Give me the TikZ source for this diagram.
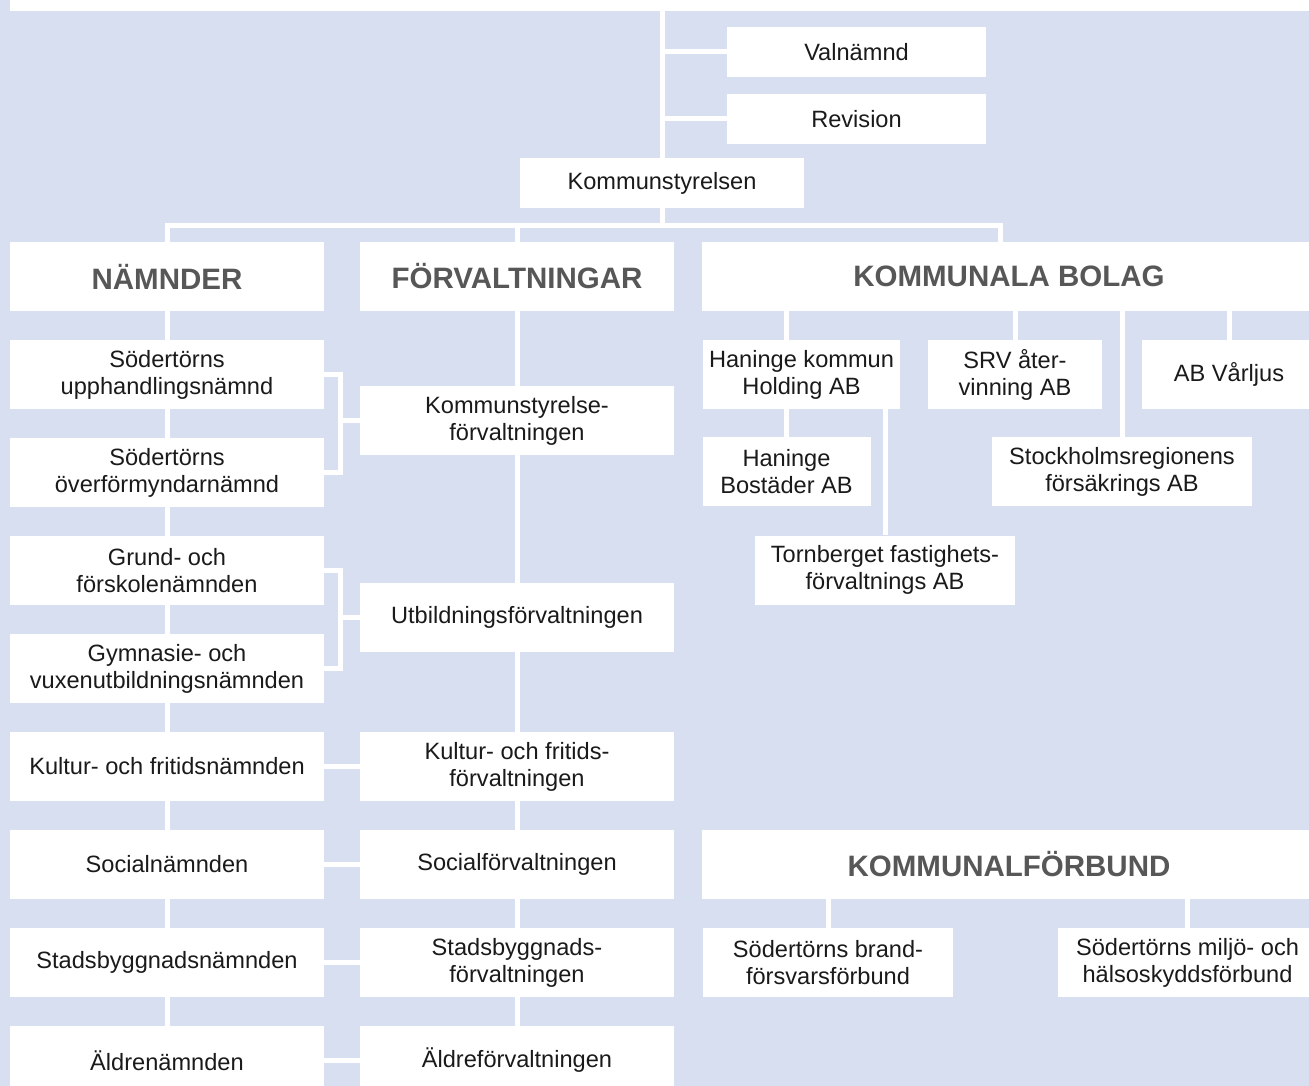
\documentclass[tikz,border=0pt]{standalone}
\usepackage{fontspec}
\setmainfont{Liberation Sans}
\usetikzlibrary{backgrounds}
\definecolor{bgblue}{HTML}{D7DFF0}
\definecolor{headgray}{HTML}{575757}
\definecolor{txt}{HTML}{1A1A1A}
\tikzset{
  box/.style={fill=white, inner sep=0pt, align=center, text=txt,
    font=\fontsize{23.6}{27}\selectfont},
  headbox/.style={fill=white, inner sep=0pt, align=center, text=headgray,
    minimum height=69pt, font=\fontsize{29.5}{32}\selectfont\bfseries},
  colbox/.style={box, minimum width=314pt, minimum height=69pt},
  conn/.style={draw=white, line width=5pt, line join=miter}
}
\begin{document}
\begin{tikzpicture}[x=1pt,y=-1pt]
\useasboundingbox (0,0) rectangle (1309,1086);
% top (cropped) box
\node[box, minimum width=1306pt, minimum height=11pt] (top) at (663,5.5) {};
% upper part
\node[box, minimum width=259pt, minimum height=50pt] (valn) at (856.5,52) {Valnämnd};
\node[box, minimum width=259pt, minimum height=50pt] (rev) at (856.5,119) {Revision};
\node[box, minimum width=284pt, minimum height=50pt] (ks) at (662,183) {Kommunstyrelsen};
% headings
\node[headbox, minimum width=314pt] (hNam) at (167,276.5) {NÄMNDER};
\node[headbox, minimum width=314pt] (hForv) at (517,276.5) {FÖRVALTNINGAR};
\node[headbox, minimum width=614pt] (hBolag) at (1009,276.5) {KOMMUNALA BOLAG};
\node[headbox, minimum width=614pt] (hFb) at (1009,864.5) {KOMMUNALFÖRBUND};
% nämnder
\node[colbox] (nam1) at (167,374.5) {Södertörns\\upphandlingsnämnd};
\node[colbox] (nam2) at (167,472.5) {Södertörns\\överförmyndarnämnd};
\node[colbox] (nam3) at (167,570.5) {Grund- och\\förskolenämnden};
\node[colbox] (nam4) at (167,668.5) {Gymnasie- och\\vuxenutbildningsnämnden};
\node[colbox] (nam5) at (167,766.5) {Kultur- och fritidsnämnden};
\node[colbox] (nam6) at (167,864.5) {Socialnämnden};
\node[colbox] (nam7) at (167,962.5) {Stadsbyggnadsnämnden};
\node[colbox] (nam8) at (167,1060.5) {Äldrenämnden};
% förvaltningar
\node[colbox] (forv1) at (517,420.5) {Kommunstyrelse-\\förvaltningen};
\node[colbox] (forv2) at (517,617.5) {Utbildningsförvaltningen};
\node[colbox] (forv3) at (517,766.5) {Kultur- och fritids-\\förvaltningen};
\node[colbox] (forv4) at (517,864.5) {Socialförvaltningen};
\node[colbox] (forv5) at (517,962.5) {Stadsbyggnads-\\förvaltningen};
\node[colbox] (forv6) at (517,1060.5) {Äldreförvaltningen};
% bolag
\node[box, minimum width=197pt, minimum height=69pt] (b1) at (801.5,374.5) {Haninge kommun\\Holding AB};
\node[box, minimum width=174pt, minimum height=69pt] (b2) at (1015,374.5) {SRV åter-\\vinning AB};
\node[box, minimum width=174pt, minimum height=69pt] (b3) at (1229,374.5) {AB Vårljus};
\node[box, minimum width=168pt, minimum height=69pt] (b4) at (786.5,471.5) {Haninge\\Bostäder AB};
\node[box, minimum width=260pt, minimum height=69pt] (b5) at (1122,471.5) {Stockholmsregionens\\försäkrings AB};
\node[box, minimum width=260pt, minimum height=69pt] (b6) at (885,570) {Tornberget fastighets-\\förvaltnings AB};
% förbund
\node[box, minimum width=250pt, minimum height=69pt] (f1) at (828,962.5) {Södertörns brand-\\försvarsförbund};
\node[box, minimum width=259pt, minimum height=69pt] (f2) at (1187.5,962.5) {Södertörns miljö- och\\hälsoskyddsförbund};
% connectors
\coordinate (busL) at (167,226);
\coordinate (busR) at (1000.5,226);
\coordinate (br) at (340,0);
\begin{scope}[on background layer]
\fill[bgblue] (0,0) rectangle (1309,1086);
\draw[conn] (ks |- top.south) -- (ks |- busL);
\draw[conn] (ks |- valn) -- (valn.west);
\draw[conn] (ks |- rev) -- (rev.west);
\draw[conn] (hNam.north) -- (busL) -- (busR) -- (busR |- hBolag.north);
\draw[conn] (hForv.north) -- (hForv.north |- busL);
\draw[conn] (hNam) -- (nam8);
\draw[conn] (hForv) -- (forv6);
\draw[conn] (nam1.east) -| (br |- nam2) -- (nam2.east);
\draw[conn] (forv1.west) -- (br |- forv1);
\draw[conn] (nam3.east) -| (br |- nam4) -- (nam4.east);
\draw[conn] (forv2.west) -- (br |- forv2);
\draw[conn] (nam5) -- (forv3);
\draw[conn] (nam6) -- (forv4);
\draw[conn] (nam7) -- (forv5);
\draw[conn] (nam8) -- (forv6);
\draw[conn] (b4) -- (b4 |- hBolag);
\draw[conn] (b2) -- (b2 |- hBolag);
\draw[conn] (b3) -- (b3 |- hBolag);
\draw[conn] (b5) -- (b5 |- hBolag);
\draw[conn] (b6) -- (b6 |- b1);
\draw[conn] (f1) -- (f1 |- hFb);
\draw[conn] (f2) -- (f2 |- hFb);
\end{scope}
\end{tikzpicture}
\end{document}
